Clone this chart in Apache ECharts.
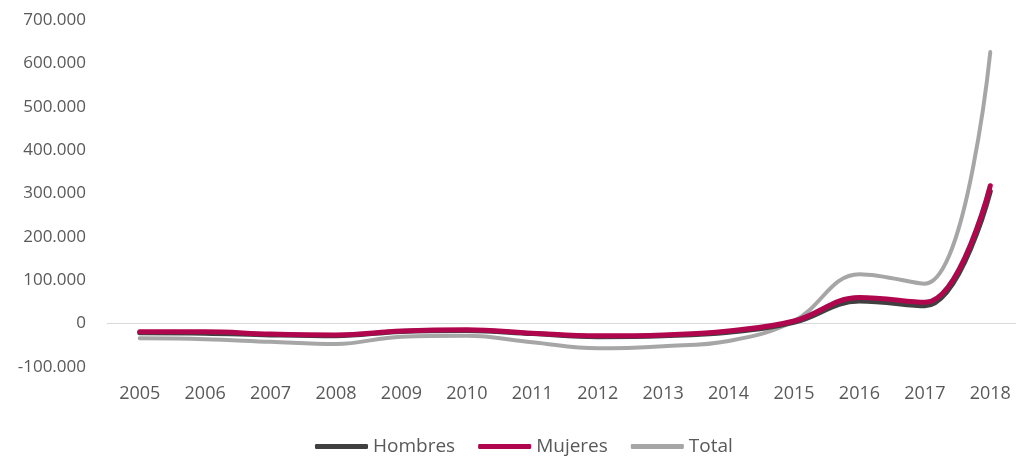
<!DOCTYPE html>
<html>
<head>
<meta charset="utf-8">
<script src="https://cdn.jsdelivr.net/npm/echarts@6/dist/echarts.min.js"></script>
<style>
  html, body { margin: 0; padding: 0; background: #fff; overflow: hidden; }
  #chart { width: 1023px; height: 458px; }
</style>
</head>
<body>
<div id="chart"></div>
<script>
// años y valores (en personas)
const years = ["2005", "2006", "2007", "2008", "2009", "2010", "2011", "2012", "2013", "2014", "2015", "2016", "2017", "2018"];
const hombres = [-21000, -22000, -26000, -28000, -18000, -16000, -23000, -30000, -28000, -20000, 3000, 52000, 41000, 305000];
const mujeres = [-19000, -19000, -24000, -26000, -17000, -14000, -22000, -28000, -26000, -17000, 6000, 60000, 49000, 318000];
const total = [-34000, -36000, -42000, -47000, -30000, -28000, -43000, -57000, -52000, -40000, 6000, 114000, 92000, 626000];

const chart = echarts.init(document.getElementById("chart"));

function fmt(v) {
  if (v === 0) return "0";
  const s = String(Math.abs(v)).replace(/\B(?=(\d{3})+(?!\d))/g, ".");
  return (v < 0 ? "-" : "") + s;
}

const textColor = "#595959";
const font = "Open Sans";

const option = {
  backgroundColor: "#ffffff",
  animation: false,
  grid: {
    left: 107,
    right: 0,
    top: 20,
    height: 347,
    containLabel: false,
  },
  legend: {
    data: ["Hombres", "Mujeres", "Total"],
    top: 437,
    left: 315,
    padding: 0,
    icon: "roundRect",
    itemWidth: 53,
    itemHeight: 5,
    itemGap: 23,
    textStyle: {
      color: textColor,
      fontFamily: font,
      fontSize: 19,
    },
  },
  xAxis: {
    type: "category",
    data: years,
    boundaryGap: true,
    axisLine: { show: false },
    axisTick: { show: false },
    axisLabel: {
      color: textColor,
      fontFamily: font,
      fontSize: 18,
      margin: 18,
    },
  },
  yAxis: {
    type: "value",
    min: -100000,
    max: 700000,
    interval: 100000,
    axisLine: { show: false },
    axisTick: { show: false },
    axisLabel: {
      color: textColor,
      fontFamily: font,
      fontSize: 17,
      margin: 21,
      formatter: fmt,
    },
    splitLine: {
      show: true,
      lineStyle: {
        // solo la línea del cero
        color: ["rgba(0,0,0,0)", "#D9D9D9", "rgba(0,0,0,0)", "rgba(0,0,0,0)", "rgba(0,0,0,0)",
          "rgba(0,0,0,0)", "rgba(0,0,0,0)", "rgba(0,0,0,0)", "rgba(0,0,0,0)"],
        width: 1,
      },
    },
  },
  series: [
    {
      name: "Total",
      type: "line",
      smooth: 0.4,
      symbol: "none",
      z: 1,
      lineStyle: { color: "#A6A6A6", width: 4, cap: "round" },
      itemStyle: { color: "#A6A6A6" },
      data: total,
    },
    {
      name: "Hombres",
      type: "line",
      smooth: 0.4,
      symbol: "none",
      z: 2,
      lineStyle: { color: "#404040", width: 5, cap: "round" },
      itemStyle: { color: "#404040" },
      data: hombres,
    },
    {
      name: "Mujeres",
      type: "line",
      smooth: 0.4,
      symbol: "none",
      z: 3,
      lineStyle: { color: "#B0064E", width: 5, cap: "round" },
      itemStyle: { color: "#B0064E" },
      data: mujeres,
    },
  ],
};

chart.setOption(option);
</script>
</body>
</html>
